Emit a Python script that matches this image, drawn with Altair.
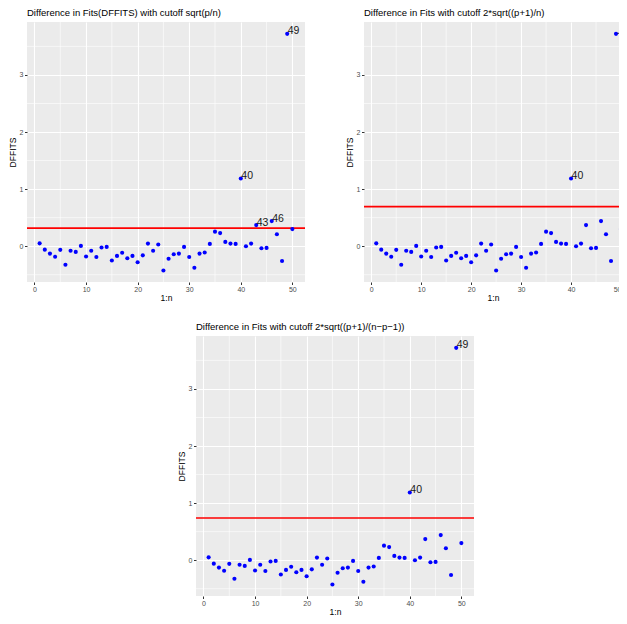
import altair as alt
import pandas as pd

# ---- data ----
idx = list(range(1, 51))
dffits = [0.05, -0.06, -0.13, -0.185, -0.064, -0.325, -0.08, -0.10, 0.005, -0.18,
          -0.08, -0.19, -0.023, -0.012, -0.25, -0.17, -0.115, -0.21, -0.17, -0.28,
          -0.16, 0.046, -0.08, 0.03, -0.425, -0.22, -0.14, -0.13, -0.012, -0.19,
          -0.378, -0.13, -0.11, 0.04, 0.255, 0.23, 0.075, 0.046, 0.04, 1.185,
          0.0, 0.046, 0.37, -0.035, -0.03, 0.44, 0.21, -0.26, 3.72, 0.30]
p = 5
n = 50
titles = ["Difference in Fits(DFFITS) with cutoff sqrt(p/n)",
          "Difference in Fits with cutoff 2*sqrt((p+1)/n)",
          "Difference in Fits with cutoff 2*sqrt((p+1)/(n\u2212p\u22121))"]
cutoffs = [(p / n) ** 0.5, 2 * ((p + 1) / n) ** 0.5, 2 * ((p + 1) / (n - p - 1)) ** 0.5]
x_major = [0, 10, 20, 30, 40, 50]
x_minor = [5, 15, 25, 35, 45]
y_major = [0, 1, 2, 3]
y_minor = [-0.5, 0.5, 1.5, 2.5, 3.5]

FONT = "Liberation Sans"
BG = "#EBEBEB"
PH = 260


def panel(title, cutoff, width, xmax, clip):
    df = pd.DataFrame({"i": idx, "d": dffits})
    lab = df[df["d"] > cutoff].copy()
    lab["lab"] = lab["i"].astype(str)
    xs = alt.Scale(domain=[-1.45, xmax], nice=False, zero=False)
    ys = alt.Scale(domain=[-0.627, 3.927], nice=False, zero=False)
    xv = [v for v in x_major if v <= xmax]
    xaxis = alt.Axis(values=xv, grid=True, gridColor="white", gridWidth=1.1,
                     domain=False, tickColor="#333333", tickSize=2.5, tickWidth=1,
                     labelColor="#4D4D4D", labelFontSize=7, labelPadding=1,
                     labelFont=FONT, title="1:n", titleFont=FONT, titleFontSize=8.5,
                     titleFontWeight="normal", titleColor="black", titlePadding=0.5,
                     format="d")
    yaxis = alt.Axis(values=y_major, grid=True, gridColor="white", gridWidth=1.1,
                     domain=False, tickColor="#333333", tickSize=2.5, tickWidth=1,
                     labelColor="#4D4D4D", labelFontSize=7, labelPadding=1.5,
                     labelFont=FONT, title="DFFITS", titleFont=FONT, titleFontSize=8.5,
                     titleFontWeight="normal", titleColor="black", titlePadding=2,
                     format="d")
    X = lambda f: alt.X(f, scale=xs, axis=xaxis)
    Y = lambda f: alt.Y(f, scale=ys, axis=yaxis)
    vmin = alt.Chart(pd.DataFrame({"v": [v for v in x_minor if v <= xmax]})).mark_rule(
        color="white", strokeWidth=0.6).encode(x=X("v:Q"))
    hmin = alt.Chart(pd.DataFrame({"h": y_minor})).mark_rule(
        color="white", strokeWidth=0.6).encode(y=Y("h:Q"))
    hline = alt.Chart(pd.DataFrame({"c": [cutoff]})).mark_rule(
        color="#FF0000", strokeWidth=1.6).encode(y=Y("c:Q"))
    pts = alt.Chart(df).mark_circle(size=17, color="#0000FF", opacity=1, clip=clip).encode(
        x=X("i:Q"), y=Y("d:Q"))
    layers = [vmin, hmin, hline, pts]
    # labels that run into the right border of a cropped panel are truncated
    inner = lab[lab["i"] <= xmax - 3]
    edge = lab[lab["i"] > xmax - 3]
    txt_kw = dict(align="left", baseline="alphabetic", dx=0.5, dy=0.5,
                  fontSize=10.5, font=FONT, color="#1a1a1a", clip=clip)
    layers.append(alt.Chart(inner).mark_text(**txt_kw).encode(
        x=X("i:Q"), y=Y("d:Q"), text="lab:N"))
    if len(edge):
        layers.append(alt.Chart(edge).mark_text(limit=6.5, ellipsis="", **txt_kw).encode(
            x=X("i:Q"), y=Y("d:Q"), text="lab:N"))
    return alt.layer(*layers).properties(
        width=width, height=PH,
        title=alt.TitleParams(text=title, anchor="start", frame="group", fontSize=9.5,
                              font=FONT, fontWeight="normal", color="black", offset=4),
        view=alt.ViewBackground(fill=BG, strokeWidth=0))


p1 = panel(titles[0], cutoffs[0], 278, 52.45, False)
p2 = panel(titles[1], cutoffs[1], 258, 50.2, True)
p3 = panel(titles[2], cutoffs[2], 278, 52.45, False)

spacer = alt.Chart(pd.DataFrame({"z": [0]})).mark_point(opacity=0).encode(
    x=alt.value(50), y=alt.value(5)).properties(
    width=150, height=10, view=alt.ViewBackground(fill="transparent", strokeWidth=0))

top = alt.hconcat(p1, p2, spacing=39)
bottom = alt.hconcat(spacer, p3, spacing=0)
chart = alt.vconcat(top, bottom, spacing=20).properties(
    padding={"left": 0, "top": 0, "right": -4, "bottom": 0}
).configure_view(strokeWidth=0).configure(background="white")

chart.save("out.html", embed_options={"renderer": "svg", "actions": False})
